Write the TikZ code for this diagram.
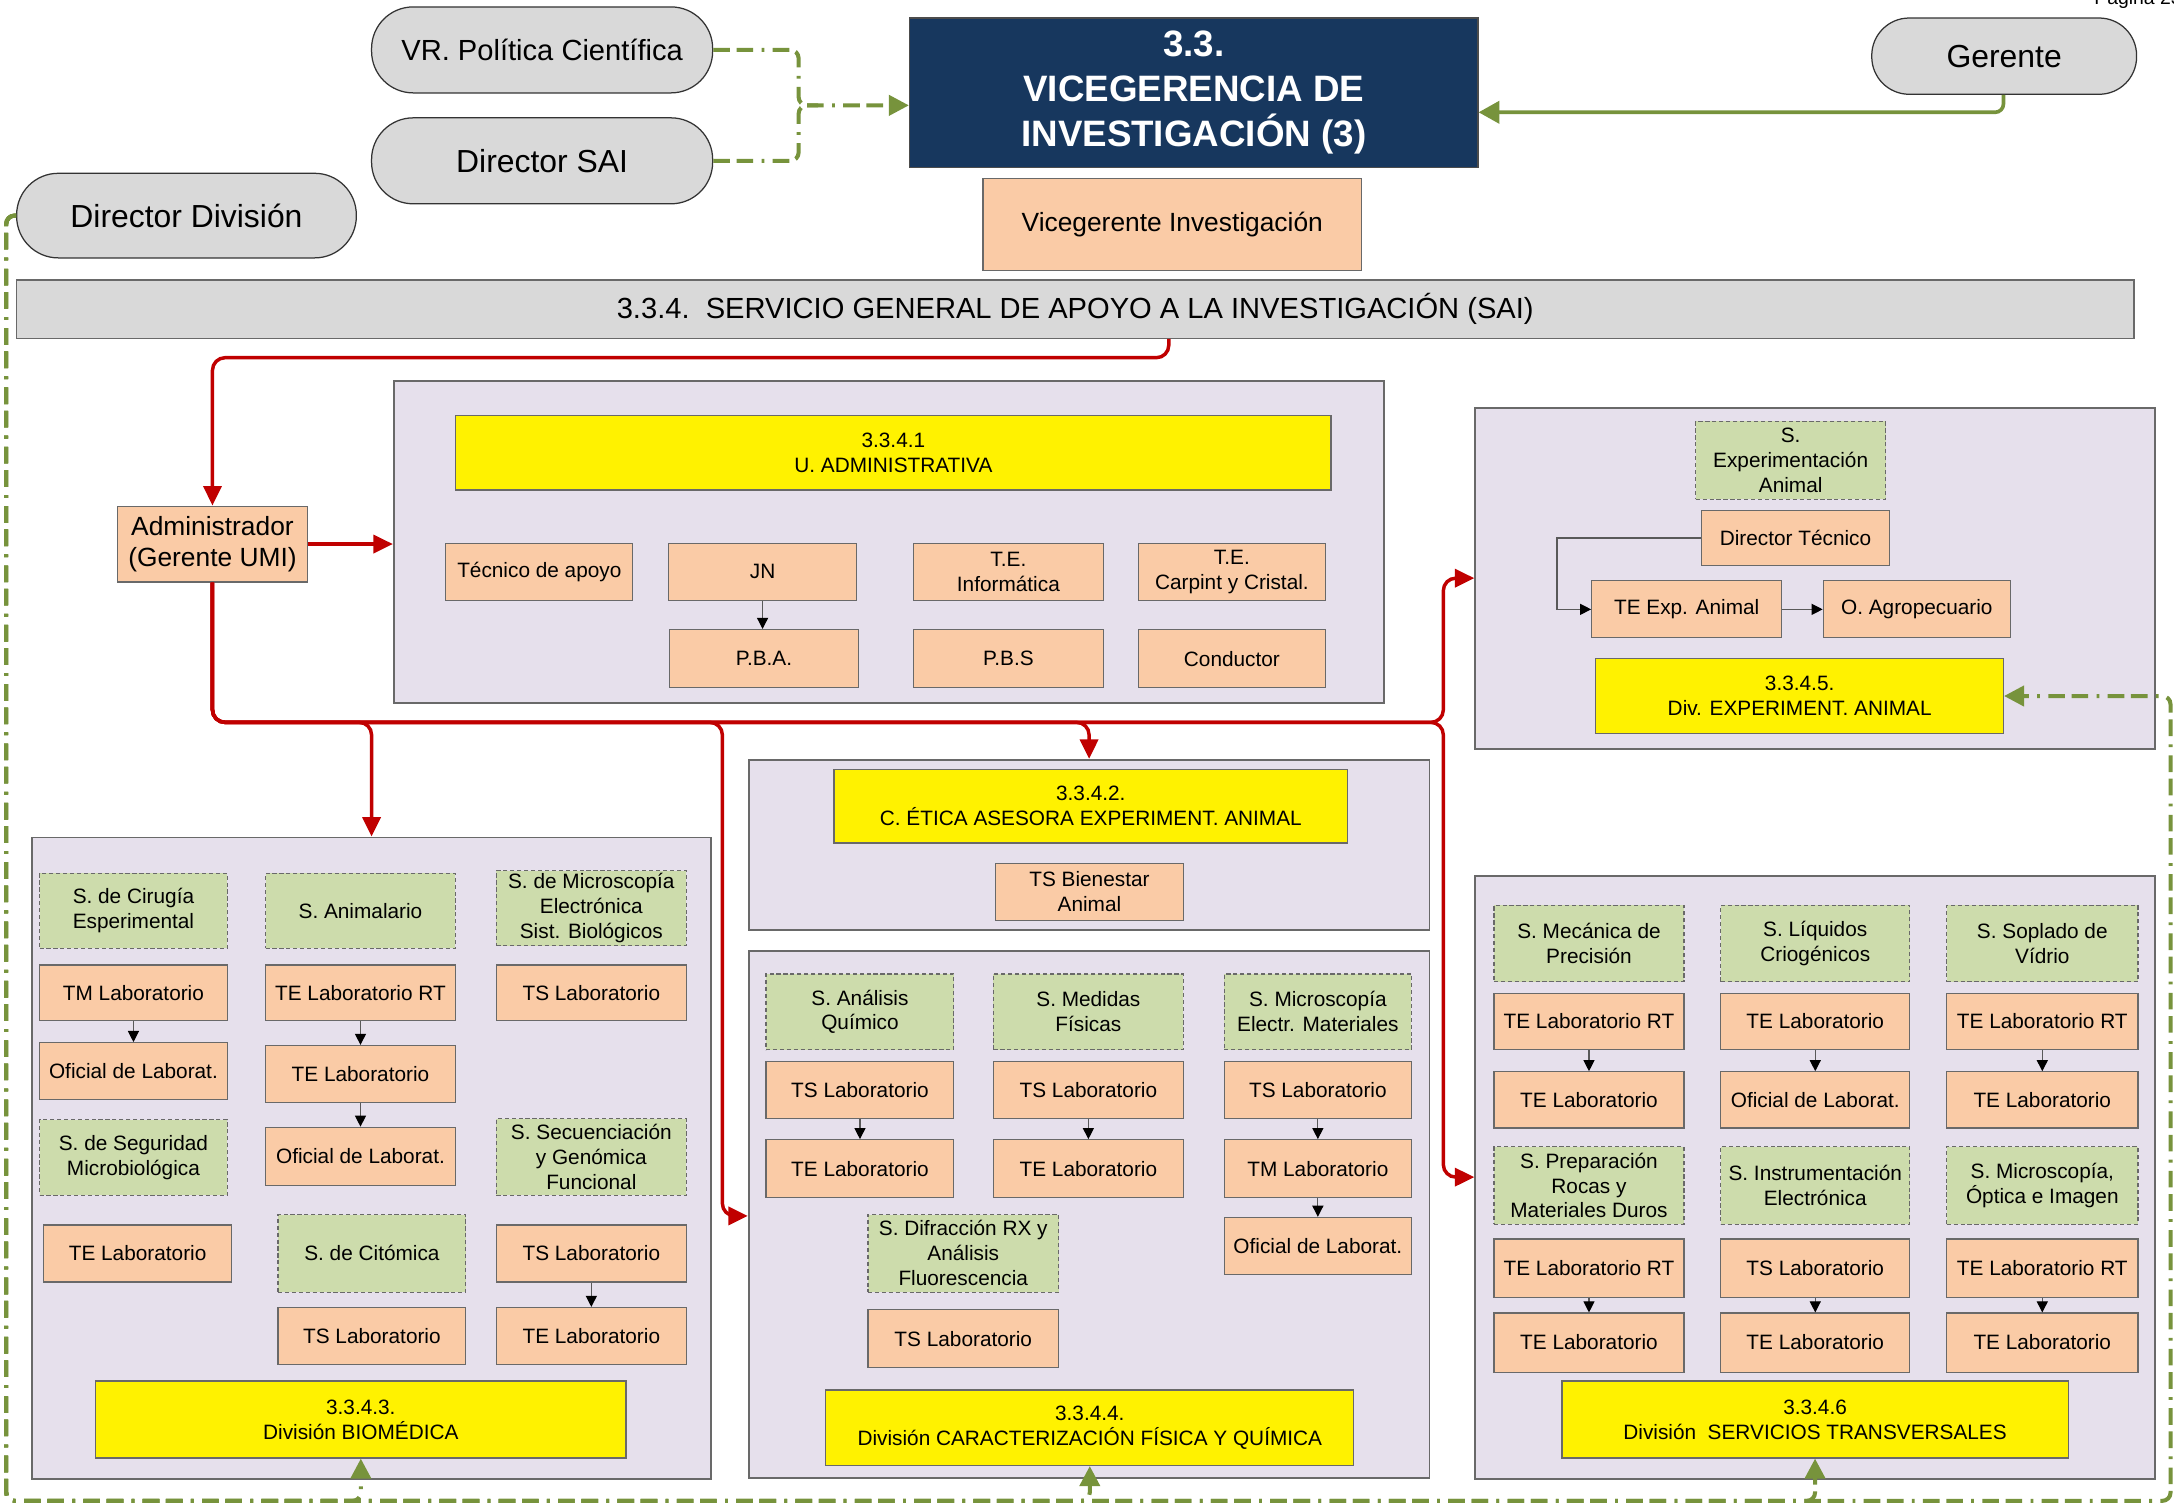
\documentclass[tikz,border=0pt]{standalone}
\usepackage{fontspec}
\setmainfont{Liberation Sans}
\usetikzlibrary{arrows.meta}
\definecolor{navy}{RGB}{23,55,94}
\definecolor{peach}{RGB}{250,203,166}
\definecolor{sgreen}{RGB}{205,220,172}
\definecolor{lav}{RGB}{230,224,236}
\definecolor{ogreen}{RGB}{119,147,60}
\definecolor{dred}{RGB}{192,0,0}
\definecolor{ovalgray}{RGB}{217,217,217}
\definecolor{bordergray}{RGB}{105,105,105}
\newcommand\bx[7]{\node[#1,minimum width={(#5)-(#3)},minimum height={(#6)-(#4)}] (#2) at ({((#3)+(#5))/2},{((#4)+(#6))/2}) {#7};}
\tikzset{
  base/.style={inner sep=1pt, align=center, font=\fontsize{15}{18}\selectfont, line width=0.8pt},
  pbox/.style={base, fill=peach, draw=bordergray},
  gbox/.style={base, fill=sgreen, draw=bordergray, dash pattern=on 3pt off 2pt},
  ybox/.style={base, fill=yellow, draw=bordergray},
  cont/.style={fill=lav, draw=bordergray, line width=1.3pt, inner sep=0pt},
  oval/.style={fill=ovalgray, draw=black!80, line width=0.9pt, rounded corners=30pt, inner sep=1pt, font=\fontsize{23}{27}\selectfont},
  navybox/.style={fill=navy, draw=black!70, line width=0.9pt, text=white, align=center, inner sep=1pt, font=\bfseries\fontsize{26.5}{32.5}\selectfont},
  barbox/.style={fill=ovalgray, draw=bordergray, line width=1pt, inner sep=1pt, font=\fontsize{21}{25}\selectfont},
  redarr/.style={draw=dred, line width=2.5pt, rounded corners=9pt, -{Triangle[length=14pt,width=13pt]}},
  gdd/.style={draw=ogreen, line width=2.9pt, rounded corners=6pt, dash pattern=on 12pt off 4.8pt on 12pt off 6pt on 2pt off 6pt},
  garr/.style={-{Triangle[length=14.5pt,width=14.5pt]}},
  gsolid/.style={draw=ogreen, line width=2.6pt, rounded corners=6pt, -{Triangle[length=15pt,width=16pt]}},
  blk/.style={draw=black!65, line width=0.8pt, -{Triangle[length=8pt,width=8pt,color=black]}},
}
\begin{document}
\begin{tikzpicture}[x=1pt,y=-1pt]
\clip (0,0) rectangle (1568,1085.5);
\fill[white] (0,0) rectangle (1568,1085.5);
\node[anchor=base west, font=\fontsize{14}{16}\selectfont] (pg) at (1507,3) {Página 23};

% ---- top ----
\bx{oval,font=\fontsize{21}{25}\selectfont}{vr}{268}{5}{514}{67}{VR. Política Científica}
\bx{oval}{dsai}{268}{85}{514}{147}{Director SAI}
\bx{oval}{ddiv}{12}{125}{257}{186}{Director División}
\bx{oval,rounded corners=27pt}{ger}{1350}{13}{1541}{68}{Gerente}
\bx{navybox}{vic}{656}{13}{1066}{121}{3.3.\\VICEGERENCIA DE\\INVESTIGACIÓN (3)}
\bx{pbox,font=\fontsize{19}{22}\selectfont}{vinv}{709}{129}{982}{195}{Vicegerente Investigación}
\bx{barbox}{sai}{12}{202}{1539}{244}{3.3.4.\ \ SERVICIO GENERAL DE APOYO A LA INVESTIGACIÓN (SAI)}

\coordinate (j1) at (576,76);
\coordinate (j2) at (576,36);
\coordinate (j3) at (576,116);
\draw[gdd,garr] (vr.east) -- (j2) -- (j1) -- (vic.west|-j1);
\draw[gdd] (dsai.east) -- (j3) -- (j1) -- ([xshift=14pt]j1);
\coordinate (g1) at (1445,81);
\draw[gsolid] (ger.south-|g1) -- (g1) -- (vic.east|-g1);

% ---- containers ----
\bx{cont}{ua}{284}{275}{998}{507}{}
\bx{cont}{exa}{1064}{294}{1554}{540}{}
\bx{cont}{eti}{540}{548}{1031}{671}{}
\bx{cont}{fis}{540}{686}{1031}{1066}{}
\bx{cont}{bio}{23}{604}{513}{1067}{}
\bx{cont}{st}{1064}{632}{1554}{1067}{}

% ---- administrador ----
\bx{pbox,font=\fontsize{19}{22}\selectfont}{adm}{85}{365}{221.5}{419.8}{Administrador\\(Gerente UMI)}

% ---- U. administrativa ----
\bx{ybox}{uay}{328.7}{299.8}{960}{353.4}{3.3.4.1\\U. ADMINISTRATIVA}
\bx{pbox}{utec}{321.5}{392}{456.5}{433}{Técnico de apoyo}
\bx{pbox}{ujn}{482}{392}{618}{433}{JN}
\bx{pbox}{upba}{483}{454}{619}{496}{P.B.A.}
\bx{pbox}{uinf}{659}{392}{795.6}{433}{T.E.\\Informática}
\bx{pbox}{ucar}{821}{392}{956}{433}{T.E.\\Carpint y Cristal.}
\bx{pbox}{upbs}{659}{454}{795.6}{496}{P.B.S}
\bx{pbox}{ucon}{821}{454}{956}{496}{Conductor}
\draw[blk] (ujn.south) -- (ujn.south|-upba.north);

% ---- Exp animal ----
\bx{gbox}{eg}{1223}{304}{1360}{360}{S.\\Experimentación\\Animal}
\bx{pbox}{edt}{1227}{368}{1363}{408}{Director Técnico}
\bx{pbox}{ete}{1148}{419}{1285}{460}{TE Exp. Animal}
\bx{pbox}{eoa}{1315}{419}{1450}{460}{O. Agropecuario}
\bx{ybox}{exy}{1151}{475}{1445}{529}{3.3.4.5.\\Div. EXPERIMENT. ANIMAL}
\coordinate (d1) at (1123,388);
\draw[blk] (edt.west) -- (d1) -- (d1|-ete.west) -- (ete.west);
\draw[blk] (ete.east) -- (eoa.west);

% ---- Etica ----
\bx{ybox}{etiy}{601.5}{555}{972}{608}{3.3.4.2.\\C. ÉTICA ASESORA EXPERIMENT. ANIMAL}
\bx{pbox}{etits}{718}{623}{853.5}{663.6}{TS Bienestar\\Animal}

% ---- Fisica y quimica ----
\bx{gbox}{fana}{552.5}{702.5}{688}{757}{S. Análisis\\Químico}
\bx{gbox}{fmed}{716.5}{702.5}{853.5}{757}{S. Medidas\\Físicas}
\bx{gbox}{fmic}{883}{702.5}{1018}{757}{S. Microscopía\\Electr. Materiales}
\bx{pbox}{fts1}{552.5}{765.7}{688}{806.4}{TS Laboratorio}
\bx{pbox}{fts2}{716.5}{765.7}{853.5}{806.4}{TS Laboratorio}
\bx{pbox}{fts3}{883}{765.7}{1018}{806.4}{TS Laboratorio}
\bx{pbox}{fte1}{552.5}{822}{688}{864}{TE Laboratorio}
\bx{pbox}{fte2}{716.5}{822}{853.5}{864}{TE Laboratorio}
\bx{pbox}{ftm}{883}{822}{1018}{864}{TM Laboratorio}
\bx{pbox}{fof}{883}{878}{1018}{919}{Oficial de Laborat.}
\bx{gbox}{fdif}{626}{876}{763.5}{932}{S. Difracción RX y\\Análisis\\Fluorescencia}
\bx{pbox}{fts4}{626}{944.5}{763.5}{986.6}{TS Laboratorio}
\bx{ybox}{fisy}{595.5}{1002.5}{976.5}{1057}{3.3.4.4.\\División CARACTERIZACIÓN FÍSICA Y QUÍMICA}
\draw[blk] (fts1.south) -- (fte1.north);
\draw[blk] (fts2.south) -- (fte2.north);
\draw[blk] (fts3.south) -- (ftm.north);
\draw[blk] (ftm.south) -- (fof.north);

% ---- Biomedica ----
\bx{gbox}{bcir}{28.5}{630}{164}{684}{S. de Cirugía\\Esperimental}
\bx{gbox}{bani}{191.5}{630}{328.5}{684}{S. Animalario}
\bx{gbox}{bmic}{358}{628}{495}{682}{S. de Microscopía\\Electrónica\\Sist. Biológicos}
\bx{pbox}{btm}{28.5}{696}{164}{736}{TM Laboratorio}
\bx{pbox}{brt}{191.5}{696}{328.5}{736}{TE Laboratorio RT}
\bx{pbox}{bts1}{358}{696}{495}{736}{TS Laboratorio}
\bx{pbox}{bof1}{28.5}{752}{164}{793}{Oficial de Laborat.}
\bx{pbox}{bte1}{191.5}{754}{328.5}{795}{TE Laboratorio}
\bx{gbox}{bseg}{28.5}{807.5}{164}{862}{S. de Seguridad\\Microbiológica}
\bx{pbox}{bof2}{191.5}{813}{328.5}{855}{Oficial de Laborat.}
\bx{gbox}{bsec}{358}{807}{495}{862}{S. Secuenciación\\y Genómica\\Funcional}
\bx{pbox}{bte2}{31.5}{883.5}{167}{924.6}{TE Laboratorio}
\bx{gbox}{bcit}{200.5}{876}{336}{932}{S. de Citómica}
\bx{pbox}{bts2}{358}{883.5}{495}{924.6}{TS Laboratorio}
\bx{pbox}{bts3}{200.5}{943}{336}{984}{TS Laboratorio}
\bx{pbox}{bte3}{358}{943}{495}{984}{TE Laboratorio}
\bx{ybox}{bioy}{69}{996}{451.5}{1051.6}{3.3.4.3.\\División BIOMÉDICA}
\draw[blk] (btm.south) -- (bof1.north);
\draw[blk] (brt.south) -- (bte1.north);
\draw[blk] (bte1.south) -- (bof2.north);
\draw[blk] (bts2.south) -- (bte3.north);

% ---- Servicios transversales ----
\bx{gbox}{sg1}{1077.5}{653}{1214.6}{708}{S. Mecánica de\\Precisión}
\bx{gbox}{sg2}{1241}{653}{1377.5}{708}{S. Líquidos\\Criogénicos}
\bx{gbox}{sg3}{1404}{653}{1542}{708}{S. Soplado de\\Vídrio}
\bx{pbox}{sa1}{1077.5}{716.6}{1214.6}{757}{TE Laboratorio RT}
\bx{pbox}{sa2}{1241}{716.6}{1377.5}{757}{TE Laboratorio}
\bx{pbox}{sa3}{1404}{716.6}{1542}{757}{TE Laboratorio RT}
\bx{pbox}{sb1}{1077.5}{773}{1214.6}{813.6}{TE Laboratorio}
\bx{pbox}{sb2}{1241}{773}{1377.5}{813.6}{Oficial de Laborat.}
\bx{pbox}{sb3}{1404}{773}{1542}{813.6}{TE Laboratorio}
\bx{gbox}{sh1}{1077.5}{827}{1214.6}{883}{S. Preparación\\Rocas y\\Materiales Duros}
\bx{gbox}{sh2}{1241}{827}{1377.5}{883}{S. Instrumentación\\Electrónica}
\bx{gbox}{sh3}{1404}{827}{1542}{883}{S. Microscopía,\\Óptica e Imagen}
\bx{pbox}{sc1}{1077.5}{893.6}{1214.6}{936}{TE Laboratorio RT}
\bx{pbox}{sc2}{1241}{893.6}{1377.5}{936}{TS Laboratorio}
\bx{pbox}{sc3}{1404}{893.6}{1542}{936}{TE Laboratorio RT}
\bx{pbox}{sd1}{1077.5}{947}{1214.6}{989.6}{TE Laboratorio}
\bx{pbox}{sd2}{1241}{947}{1377.5}{989.6}{TE Laboratorio}
\bx{pbox}{sd3}{1404}{947}{1542}{989.6}{TE Laboratorio}
\bx{ybox}{sty}{1126.6}{996}{1491.6}{1051.6}{3.3.4.6\\División\ \ SERVICIOS TRANSVERSALES}
\foreach \i in {1,2,3}{
  \draw[blk] (sa\i.south) -- (sb\i.north);
  \draw[blk] (sc\i.south) -- (sd\i.north);
}

% ---- red connectors ----
\coordinate (rA) at (843,258);
\coordinate (rB) at (153.25,258);
\draw[redarr] (sai.south-|rA) -- (rA) -- (rB) -- (adm.north);
\draw[redarr] (adm.east) -- (ua.west|-adm.east);
\coordinate (h0) at (153.25,521);
\coordinate (p0) at (268,521);
\coordinate (p1) at (521,521);
\coordinate (p2) at (521,877);
\coordinate (p6) at (785.5,521);
\coordinate (p3) at (1041,521);
\coordinate (p4) at (1041,417);
\coordinate (p5) at (1041,849);
\draw[redarr] (adm.south) -- (h0) -- (p0) -- (bio.north);
\draw[redarr] (adm.south) -- (h0) -- (p1) -- (p2) -- (fis.west|-p2);
\draw[redarr] (adm.south) -- (h0) -- (p6) -- (eti.north);
\draw[redarr] (adm.south) -- (h0) -- (p3) -- (p4) -- (exa.west|-p4);
\draw[redarr] (adm.south) -- (h0) -- (p3) -- (p5) -- (st.west|-p5);

% ---- green feedback ----
\coordinate (f0) at (4.5,155.5);
\coordinate (f1) at (4.5,1082.5);
\coordinate (f2) at (1565.5,1082.5);
\coordinate (f3) at (1565.5,502);
\coordinate (k1) at (260.25,1082.5);
\coordinate (k2) at (786,1082.5);
\coordinate (k3) at (1309.1,1082.5);
\draw[gdd,garr] (ddiv.west) -- (f0) -- (f1) -- (f2) -- (f3) -- (exy.east|-f3);
\draw[gdd,garr] (ddiv.west) -- (f0) -- (f1) -- (k1) -- (bioy.south);
\draw[gdd,garr] (ddiv.west) -- (f0) -- (f1) -- (k2) -- (fisy.south);
\draw[gdd,garr] (ddiv.west) -- (f0) -- (f1) -- (k3) -- (sty.south);
\end{tikzpicture}
\end{document}
